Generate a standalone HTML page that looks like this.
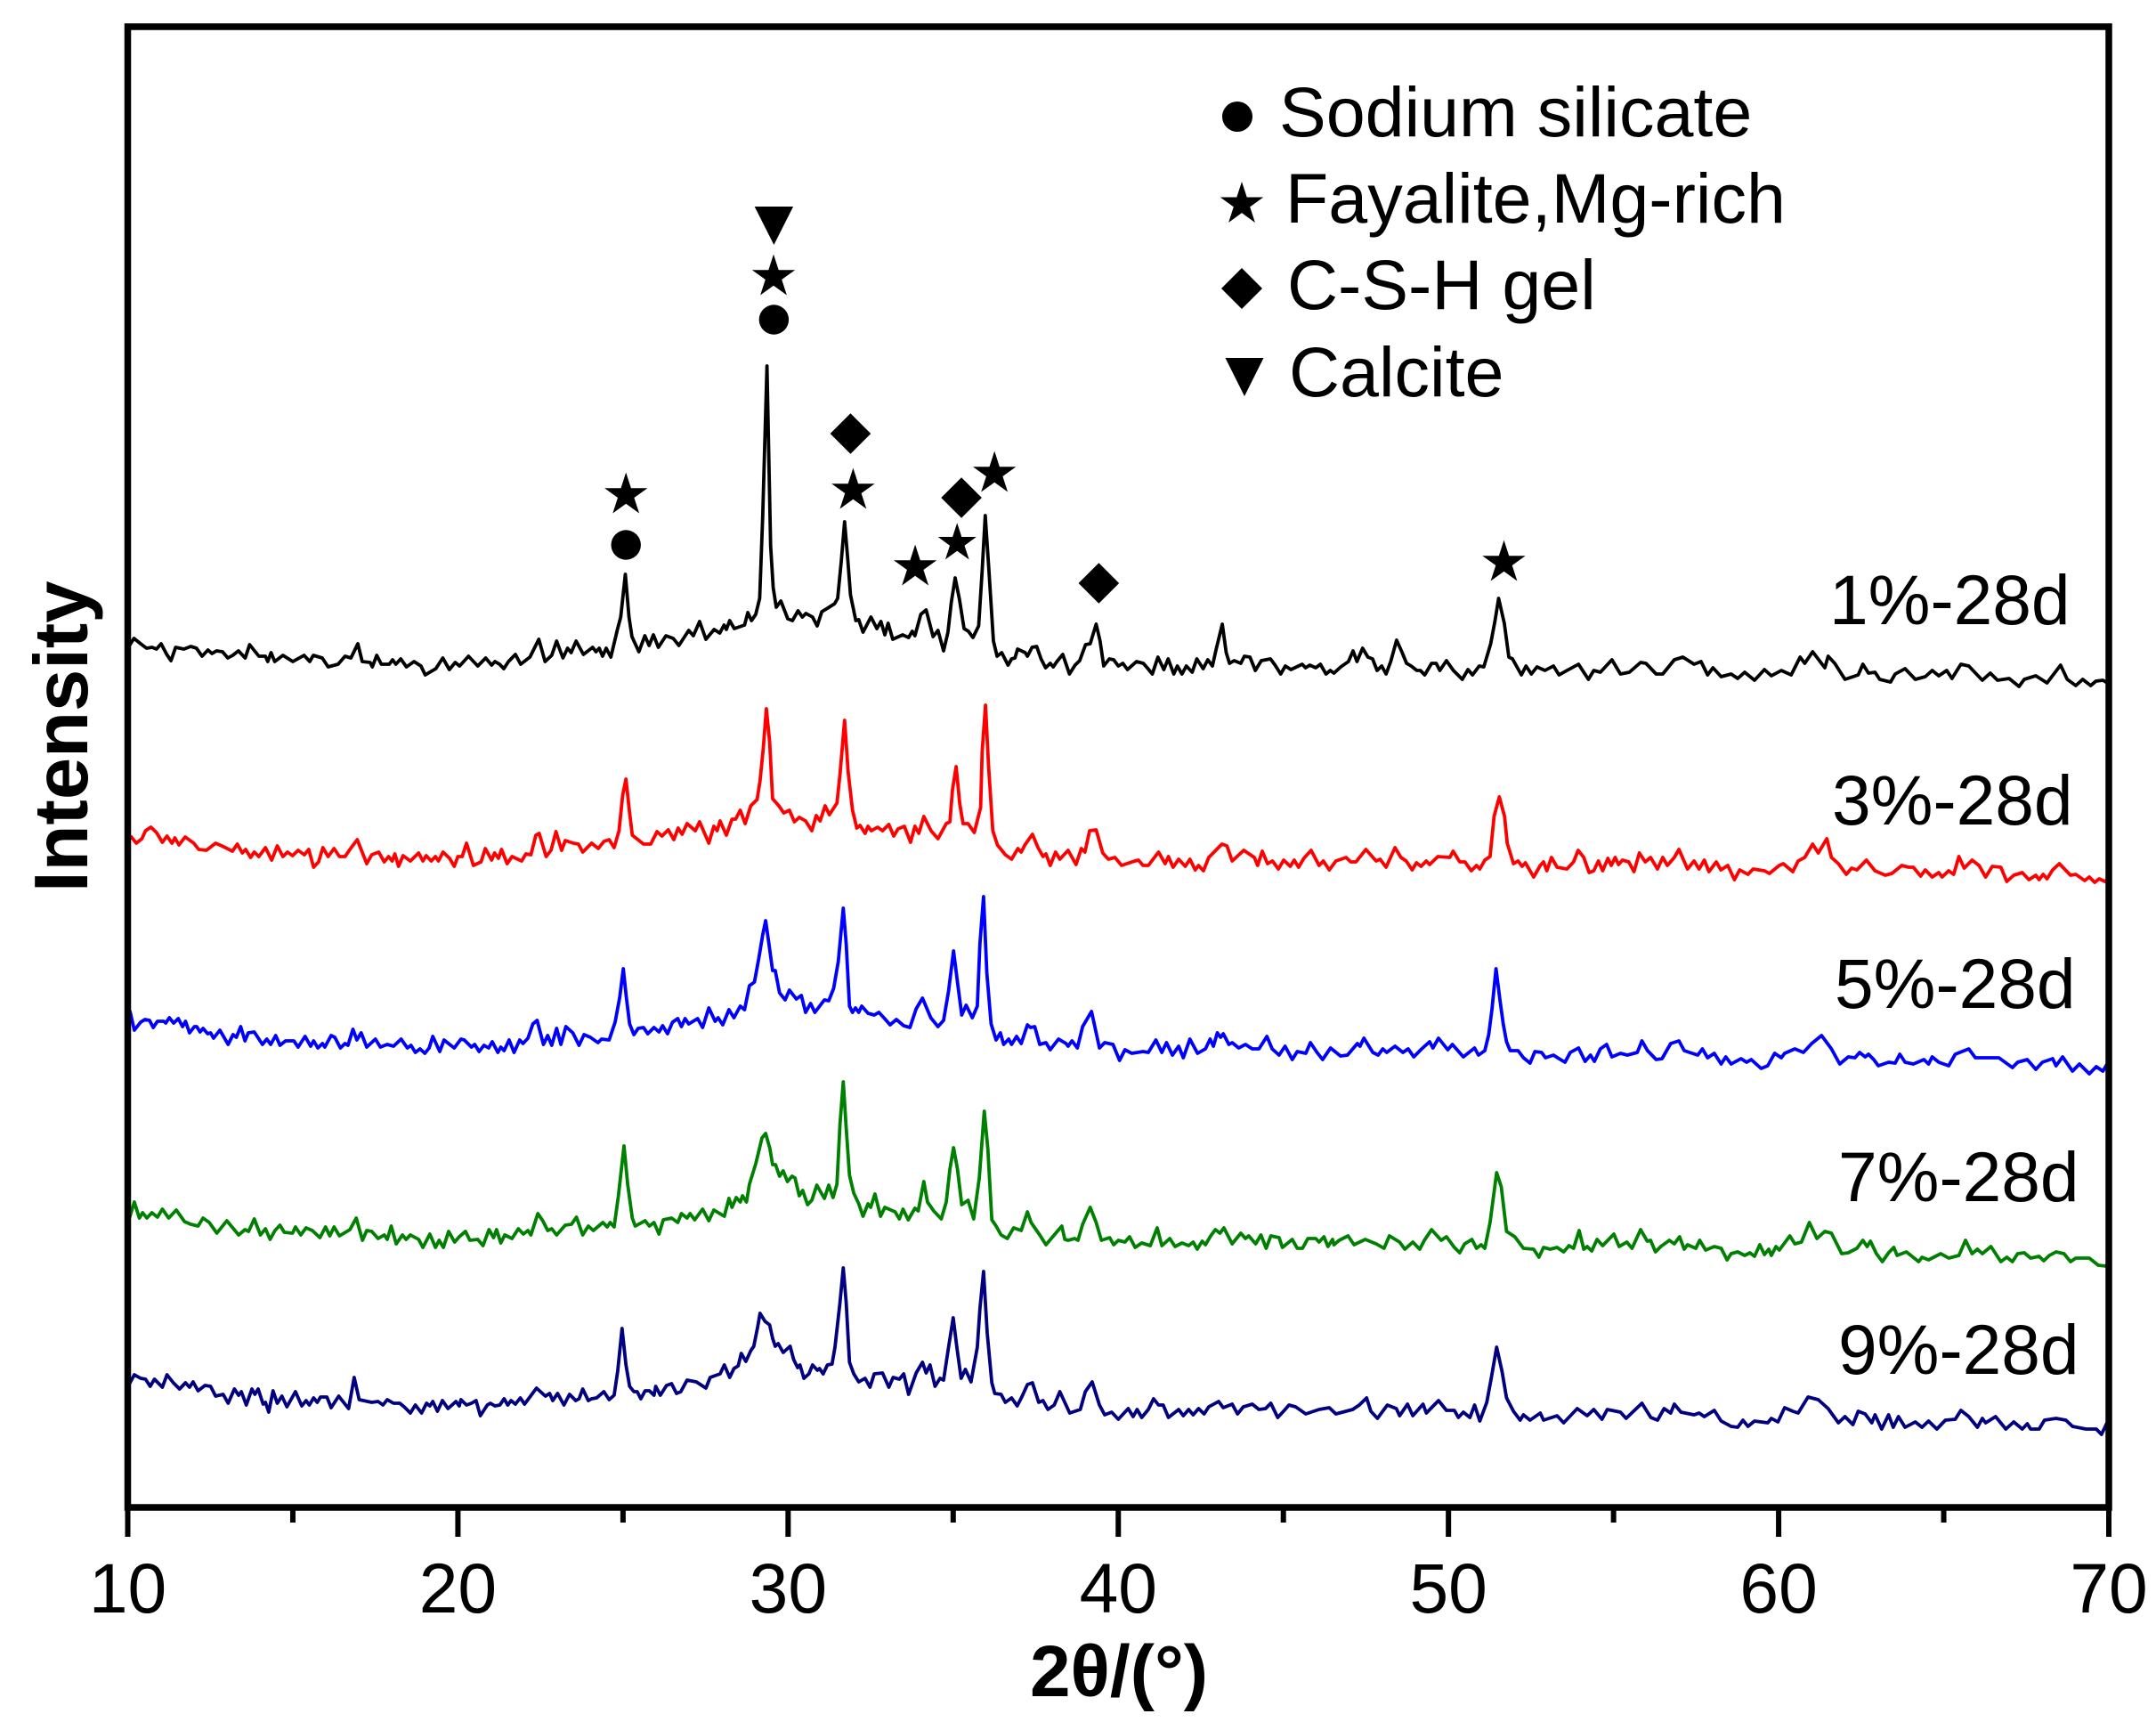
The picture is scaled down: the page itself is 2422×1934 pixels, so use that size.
<!DOCTYPE html>
<html lang="en">
<head>
<meta charset="utf-8">
<title>XRD patterns at 28 days</title>
<style>
html,body{margin:0;padding:0;background:#fff;}
svg{display:block;}
text{font-family:"Liberation Sans",sans-serif;fill:#000;}
</style>
</head>
<body>
<svg id="chart" xmlns="http://www.w3.org/2000/svg" width="2422" height="1934" viewBox="0 0 2422 1934">
<rect x="0" y="0" width="2422" height="1934" fill="#fff"/>
<g id="series-layer"></g>
<g id="marker-layer"></g>
<rect x="143.5" y="30" width="2225.5" height="1663" fill="none" stroke="#000" stroke-width="7.5"/>
<g id="tick-layer"></g>
<text transform="translate(98,1002) rotate(-90)" font-size="85" font-weight="700">Intensity</text>
<text x="1257" y="1905" font-size="82" font-weight="700" text-anchor="middle">2θ/(°)</text>
<g>
<circle cx="1390" cy="131" r="17" fill="#000"/>
<polygon points="1395,204 1400.7,221.5 1419.2,221.5 1404.2,232.4 1409.9,250 1395,239.1 1380.1,250 1385.8,232.4 1370.8,221.5 1389.3,221.5" fill="#000"/>
<polygon points="1395,301 1418,324 1395,347 1372,324" fill="#000"/>
<polygon points="1376.5,402 1419.5,402 1398,445" fill="#000"/>
<text x="1437" y="153" font-size="79">Sodium silicate</text>
<text x="1444" y="250" font-size="79">Fayalite,Mg-rich</text>
<text x="1446" y="347" font-size="79">C-S-H gel</text>
<text x="1448" y="445" font-size="79">Calcite</text>
</g>
<text x="2055" y="701" font-size="78.5">1%-28d</text>
<text x="2058" y="926" font-size="78.5">3%-28d</text>
<text x="2061" y="1132" font-size="78.5">5%-28d</text>
<text x="2065" y="1349" font-size="78.5">7%-28d</text>
<text x="2065" y="1543" font-size="78.5">9%-28d</text>
</svg>
<script>
const majorTicks = [10, 20, 30, 40, 50, 60, 70];
const minorTicks = [15, 25, 35, 45, 55, 65];

const theta1 = [10.05,10.19,10.39,10.57,10.74,10.87,11.01,11.18,11.31,11.45,11.70,11.91,12.08,12.25,12.43,12.55,12.69,12.87,13.03,13.18,13.35,13.56,13.69,13.97,14.17,14.24,14.34,14.45,14.70,15.0,15.34,15.51,15.62,15.89,16.07,16.37,16.58,16.76,16.97,17.10,17.34,17.41,17.54,17.68,17.92,18.02,18.12,18.27,18.44,18.67,18.88,19.01,19.33,19.54,19.74,19.92,20.05,20.32,20.60,20.84,21.02,21.12,21.26,21.39,21.53,21.74,21.90,22.18,22.45,22.64,22.84,22.99,23.18,23.32,23.43,23.58,23.80,24.08,24.18,24.28,24.38,24.49,24.63,24.83,24.93,25.07,25.18,25.27,25.48,25.66,25.79,25.92,26.07,26.30,26.52,26.69,26.99,27.13,27.32,27.51,27.76,27.93,28.06,28.13,28.23,28.37,28.68,28.78,28.89,29.02,29.14,29.23,29.36,29.47,29.55,29.64,29.78,29.99,30.13,30.30,30.43,30.54,30.74,30.88,31.02,31.2,31.41,31.50,31.61,31.71,31.81,31.89,32.05,32.14,32.27,32.51,32.69,32.81,32.93,33.03,33.17,33.47,33.65,33.76,33.84,34.02,34.18,34.39,34.54,34.71,34.84,34.94,35.06,35.19,35.33,35.46,35.6,35.77,35.88,35.97,36.08,36.22,36.33,36.47,36.66,36.77,36.87,36.95,37.18,37.25,37.39,37.53,37.66,37.8,37.94,38.03,38.14,38.32,38.52,38.69,38.83,39.01,39.15,39.33,39.45,39.56,39.73,39.86,40.0,40.14,40.28,40.55,40.76,40.9,41.03,41.2,41.38,41.51,41.68,41.79,41.93,42.06,42.24,42.38,42.57,42.71,42.85,42.96,43.15,43.27,43.37,43.51,43.71,43.82,43.99,44.15,44.33,44.61,44.75,44.92,45.06,45.23,45.57,45.67,45.8,45.98,46.12,46.29,46.42,46.53,46.74,46.97,47.11,47.23,47.4,47.56,47.7,47.84,47.98,48.11,48.25,48.43,48.6,48.73,48.87,49.04,49.15,49.28,49.49,49.63,49.74,49.94,50.15,50.42,50.59,50.73,50.93,51.07,51.28,51.41,51.52,51.69,51.83,51.94,52.21,52.35,52.51,52.68,52.92,53.18,53.35,53.59,53.94,54.24,54.4,54.6,54.95,55.21,55.48,55.82,55.98,56.29,56.49,56.84,57.1,57.44,57.65,57.85,58.01,58.26,58.56,58.76,58.97,59.27,59.57,59.78,60.08,60.38,60.65,60.79,61.03,61.4,61.5,61.7,62.01,62.41,62.55,62.72,62.92,63.06,63.39,63.53,63.83,64.14,64.44,64.65,64.85,65.09,65.25,65.52,65.76,66.17,66.41,66.63,66.98,67.28,67.44,67.79,68.13,68.54,68.74,69.0,69.21,69.45,69.61,69.82,69.96];
const intensity1 = [968,976,970,965,966,964,970,958,951,966,964,967,965,956,963,959,962,961,954,957,962,954,969,956,956,950,960,950,957,950,957,950,957,954,944,947,956,954,970,950,949,944,957,947,947,952,947,953,944,950,945,935,942,954,941,949,945,956,945,954,946,950,947,942,950,958,947,955,975,950,957,973,954,965,960,973,958,966,961,965,956,965,955,986,1000,1048,1000,978,961,979,968,980,966,979,976,968,985,979,995,975,986,982,991,986,996,987,991,1005,996,1003,1021,1113,1282,1080,1033,1011,1018,998,996,1007,1000,1004,1000,990,1006,1010,1015,1021,1063,1107,1063,1025,996,997,983,1000,987,995,980,993,975,980,977,984,979,1003,1008,978,985,962,983,1016,1044,1020,987,984,977,990,1053,1114,1053,973,956,960,946,953,954,964,960,956,966,967,953,943,948,944,950,958,936,946,951,969,970,992,973,945,953,952,945,948,941,950,948,942,936,955,941,953,936,945,936,945,938,953,942,952,945,963,992,960,948,951,948,956,955,940,951,953,946,936,945,941,947,943,946,943,947,936,940,937,944,950,962,950,965,955,953,940,945,936,950,974,960,948,945,940,940,935,948,948,940,951,940,930,941,935,945,944,970,996,1021,993,955,953,935,945,936,944,940,945,935,940,947,930,940,938,952,936,938,949,948,936,936,952,955,947,950,935,943,933,936,931,938,929,941,934,940,935,955,948,961,943,956,948,930,935,947,937,938,930,927,936,942,930,933,940,934,940,931,947,945,929,937,929,931,922,930,934,926,946,930,923,930,923,928,929,926];

const theta3 = [10.01,10.11,10.26,10.43,10.54,10.7,10.87,11.05,11.19,11.34,11.43,11.55,11.74,12.0,12.15,12.38,12.66,12.85,13.17,13.32,13.47,13.57,13.72,13.83,13.97,14.17,14.36,14.53,14.7,14.84,14.99,15.16,15.35,15.48,15.63,15.78,15.91,16.07,16.25,16.41,16.58,16.73,16.95,17.24,17.39,17.6,17.77,17.9,18.01,18.09,18.2,18.34,18.56,18.81,18.94,19.04,19.19,19.32,19.41,19.55,19.75,19.89,20.0,20.13,20.26,20.47,20.7,20.83,21.02,21.11,21.23,21.32,21.49,21.64,21.93,22.06,22.21,22.36,22.46,22.67,22.82,22.97,23.14,23.25,23.5,23.65,23.78,24.05,24.25,24.42,24.58,24.73,24.88,24.99,25.09,25.18,25.28,25.62,25.84,26.03,26.18,26.37,26.54,26.67,26.79,26.94,27.19,27.32,27.6,27.75,27.85,27.94,28.13,28.3,28.41,28.55,28.7,28.87,29.06,29.15,29.25,29.34,29.44,29.53,29.72,29.87,30.04,30.19,30.34,30.53,30.72,30.85,30.97,31.12,31.25,31.48,31.57,31.71,31.82,31.95,32.08,32.18,32.33,32.42,32.52,32.71,32.86,33.05,33.2,33.33,33.52,33.71,33.84,33.96,34.11,34.33,34.54,34.79,34.9,34.98,35.09,35.2,35.3,35.45,35.64,35.83,35.88,35.98,36.07,36.2,36.34,36.58,36.77,36.96,37.06,37.17,37.4,37.57,37.72,37.81,37.94,38.1,38.23,38.48,38.72,38.88,38.99,39.13,39.33,39.53,39.7,39.9,40.1,40.5,40.61,40.75,40.91,41.22,41.42,41.52,41.66,41.83,42.03,42.17,42.33,42.43,42.58,42.74,43.14,43.29,43.45,43.8,44.12,44.22,44.36,44.52,44.67,44.85,45.01,45.21,45.33,45.46,45.62,45.84,46.08,46.21,46.39,46.59,46.9,47.04,47.2,47.5,47.81,47.93,48.11,48.38,48.56,48.72,48.9,49.03,49.17,49.33,49.43,49.68,50.04,50.14,50.34,50.5,50.69,50.85,50.95,51.1,51.26,51.38,51.54,51.7,51.78,51.97,52.11,52.23,52.33,52.58,52.78,52.88,52.98,53.12,53.29,53.59,53.79,53.93,54.1,54.26,54.4,54.54,54.67,54.83,54.93,55.05,55.15,55.27,55.46,55.62,55.78,55.96,56.12,56.33,56.49,56.63,56.84,56.98,57.24,57.44,57.59,57.75,57.89,58.11,58.25,58.46,58.66,58.82,59.07,59.23,59.57,59.72,60.02,60.14,60.43,60.59,60.79,61.03,61.2,61.46,61.6,61.81,62.05,62.21,62.37,62.66,62.92,63.23,63.43,63.73,63.94,64.08,64.3,64.44,64.65,64.85,64.95,65.15,65.3,65.46,65.62,65.86,66.07,66.27,66.47,66.73,66.91,67.12,67.38,67.58,67.79,67.89,68.01,68.13,68.3,68.5,68.84,69.0,69.27,69.41,69.57,69.71,69.88,69.98];
const intensity3 = [750,753,746,751,760,764,758,747,754,746,752,744,753,746,739,738,746,743,737,745,735,739,730,736,731,741,727,743,731,736,732,738,733,739,719,725,741,731,740,731,731,739,750,723,733,736,725,731,726,734,720,732,726,735,726,732,726,731,726,736,729,720,731,731,746,721,725,740,727,735,729,739,723,731,726,734,733,755,757,731,738,759,738,749,746,745,736,746,740,748,750,741,760,800,818,786,755,745,745,759,754,761,750,763,756,768,760,770,746,765,760,771,755,773,773,783,768,788,795,816,853,897,860,796,788,780,783,770,775,771,760,777,771,788,778,791,823,884,826,783,763,766,757,765,760,764,760,767,754,762,765,747,765,757,776,760,751,768,770,806,832,790,768,768,758,786,850,901,833,760,744,733,728,740,736,744,756,741,731,734,721,736,728,738,722,740,736,760,761,735,728,730,721,726,727,721,721,736,723,731,719,728,720,728,716,721,715,730,745,743,726,738,730,721,737,723,726,717,727,720,727,719,729,738,721,726,716,726,730,725,725,739,726,728,719,741,730,726,716,724,720,726,722,731,730,737,725,725,715,721,717,727,731,776,798,776,746,723,726,720,724,708,721,725,715,730,719,717,725,738,730,713,715,726,715,729,721,730,722,727,725,714,735,725,730,717,730,721,730,739,717,726,717,727,714,725,716,721,705,716,711,717,715,712,721,723,714,726,730,745,735,751,730,723,711,718,716,727,715,710,712,721,719,719,709,716,708,713,708,715,711,731,718,727,721,708,720,719,703,710,713,705,710,705,711,706,716,723,710,711,704,708,702,706,703,706];

const theta5 = [10.01,10.07,10.2,10.39,10.52,10.66,10.77,10.9,11.09,11.15,11.26,11.39,11.53,11.66,11.75,11.87,12.02,12.09,12.19,12.28,12.42,12.51,12.6,12.79,13.04,13.19,13.29,13.42,13.55,13.65,13.83,14.08,14.21,14.33,14.48,14.61,14.78,15.03,15.16,15.37,15.54,15.63,15.76,15.9,15.97,16.16,16.27,16.44,16.58,16.67,16.82,16.94,17.07,17.24,17.5,17.65,17.86,18.05,18.28,18.47,18.58,18.71,18.85,19.0,19.13,19.24,19.45,19.58,19.75,19.89,20.09,20.19,20.41,20.51,20.64,20.79,20.93,21.04,21.21,21.3,21.4,21.55,21.7,21.87,21.97,22.12,22.27,22.4,22.59,22.72,22.84,22.99,23.12,23.27,23.48,23.67,23.82,24.01,24.24,24.35,24.58,24.76,24.9,25.01,25.1,25.2,25.33,25.46,25.62,25.75,25.94,26.09,26.2,26.35,26.5,26.66,26.77,26.88,26.99,27.26,27.41,27.6,27.79,27.88,28.02,28.21,28.36,28.55,28.68,28.83,28.98,29.11,29.23,29.32,29.42,29.53,29.61,29.74,29.91,30.04,30.25,30.4,30.53,30.68,30.81,31.1,31.23,31.38,31.52,31.67,31.76,31.86,31.95,32.04,32.14,32.23,32.42,32.61,32.75,32.9,33.09,33.28,33.5,33.69,33.88,34.07,34.32,34.54,34.71,34.86,35.01,35.13,35.26,35.39,35.58,35.73,35.81,35.92,36.02,36.15,36.3,36.43,36.53,36.68,36.77,36.92,37.06,37.25,37.34,37.47,37.62,37.81,37.94,38.19,38.42,38.48,38.6,38.76,38.92,39.19,39.43,39.59,39.84,40.04,40.2,40.41,40.75,40.91,41.14,41.32,41.46,41.64,41.83,41.97,42.17,42.4,42.64,42.78,42.88,43.0,43.1,43.18,43.35,43.45,43.65,43.85,44.06,44.26,44.5,44.66,44.87,45.05,45.27,45.42,45.68,45.82,46.02,46.19,46.43,46.73,46.94,47.24,47.32,47.44,47.71,47.87,48.01,48.13,48.38,48.62,48.78,48.95,49.19,49.43,49.53,49.7,49.98,50.12,50.45,50.79,50.91,51.1,51.22,51.32,51.44,51.56,51.66,51.76,51.87,52.11,52.27,52.47,52.62,52.82,52.94,53.18,53.35,53.53,53.69,53.94,54.14,54.3,54.42,54.6,54.79,54.95,55.21,55.42,55.72,55.86,56.03,56.29,56.47,56.73,56.98,57.14,57.55,57.69,57.85,58.05,58.26,58.4,58.56,58.86,59.03,59.17,59.47,59.67,59.88,60.08,60.18,60.49,60.75,61.0,61.3,61.6,61.85,62.11,62.31,62.45,62.62,62.72,62.88,63.02,63.33,63.53,63.67,63.83,64.08,64.4,64.54,64.65,64.85,65.15,65.35,65.76,65.96,66.67,67.08,67.24,67.53,67.79,67.99,68.3,68.4,68.6,68.9,69.11,69.41,69.62,69.82,69.98];
const intensity5 = [550,557,536,545,548,547,539,546,546,544,550,544,549,540,546,533,540,540,534,538,532,533,527,536,520,531,528,540,524,533,534,520,526,520,530,519,524,524,517,529,518,524,516,521,517,530,528,516,521,519,537,525,533,517,526,517,520,518,526,516,519,511,515,510,516,529,512,525,520,516,526,525,517,520,512,519,516,523,511,517,513,525,511,525,521,527,543,547,520,530,519,538,520,540,533,519,531,528,522,526,525,545,573,605,573,543,531,538,539,532,539,534,541,532,545,549,540,549,543,549,539,561,546,550,542,559,550,563,559,586,590,616,643,659,633,603,603,578,570,581,571,575,556,566,556,570,569,583,613,673,633,563,556,561,556,563,555,553,556,550,542,548,541,539,560,572,550,540,547,580,625,590,553,564,550,563,633,686,600,543,525,533,520,526,520,529,521,542,539,540,520,522,514,526,521,518,524,516,540,557,516,522,520,502,514,510,512,511,525,511,522,508,518,505,526,510,515,526,518,533,528,532,520,522,516,520,515,515,529,515,508,518,503,512,510,522,511,503,516,507,508,521,518,527,511,508,515,511,518,511,515,506,515,523,516,527,514,520,506,516,508,513,531,560,605,570,543,523,513,513,505,499,512,511,505,508,504,500,511,516,501,508,501,515,520,506,510,508,511,524,513,503,504,521,524,513,508,515,505,510,498,506,498,504,500,503,493,496,510,505,510,515,511,521,530,515,498,506,505,511,506,509,503,496,500,499,509,500,498,503,498,506,500,496,509,515,505,505,494,500,503,492,500,504,496,506,490,498,487,495,490,500];

const theta7 = [10.01,10.2,10.35,10.45,10.58,10.73,10.9,11.05,11.24,11.47,11.72,11.91,12.13,12.28,12.47,12.7,13.0,13.36,13.55,13.66,13.83,14.02,14.17,14.31,14.46,14.61,14.74,14.99,15.08,15.24,15.4,15.59,15.82,15.99,16.12,16.25,16.41,16.73,16.92,17.11,17.24,17.39,17.58,17.77,17.86,17.98,18.13,18.32,18.43,18.56,18.81,18.94,19.15,19.32,19.43,19.56,19.72,19.9,20.04,20.23,20.36,20.6,20.76,20.94,21.08,21.17,21.3,21.42,21.64,21.83,21.98,22.12,22.21,22.42,22.57,22.72,22.84,22.99,23.25,23.44,23.59,23.78,23.95,24.1,24.39,24.52,24.61,24.73,24.86,25.03,25.14,25.28,25.37,25.52,25.67,25.8,25.94,26.09,26.22,26.47,26.66,26.77,26.94,27.03,27.17,27.41,27.6,27.75,28.07,28.21,28.3,28.43,28.55,28.62,28.74,28.83,29.02,29.21,29.32,29.45,29.53,29.62,29.74,29.85,29.98,30.12,30.21,30.34,30.44,30.59,30.72,30.87,31.1,31.23,31.36,31.48,31.57,31.67,31.76,31.86,31.99,32.14,32.27,32.42,32.5,32.63,32.8,32.93,33.24,33.37,33.48,33.64,33.84,33.94,34.11,34.22,34.41,34.64,34.79,34.9,35.01,35.13,35.26,35.45,35.62,35.79,35.94,36.05,36.17,36.3,36.45,36.64,36.83,37.06,37.25,37.36,37.62,37.81,38.06,38.29,38.38,38.48,38.68,38.78,38.92,39.15,39.33,39.49,39.74,39.86,40.0,40.2,40.34,40.51,40.71,40.97,41.18,41.32,41.56,41.72,41.93,42.13,42.27,42.39,42.54,42.64,42.8,42.94,43.08,43.2,43.45,43.71,43.85,43.95,44.16,44.32,44.48,44.62,44.87,44.97,45.27,45.42,45.58,45.74,45.98,46.08,46.23,46.35,46.49,46.53,46.69,46.96,47.14,47.48,47.81,48.05,48.21,48.52,48.68,48.92,49.13,49.27,49.49,49.78,49.94,50.18,50.34,50.49,50.71,50.85,50.99,51.1,51.26,51.46,51.6,51.76,52.01,52.27,52.58,52.74,52.88,53.08,53.29,53.49,53.65,53.79,53.96,54.1,54.2,54.34,54.5,54.67,55.01,55.17,55.4,55.56,55.82,56.02,56.12,56.27,56.43,56.69,56.84,57.0,57.14,57.24,57.49,57.61,57.79,58.05,58.26,58.44,58.56,58.76,58.97,59.13,59.27,59.43,59.57,59.7,59.78,59.92,60.02,60.34,60.49,60.69,60.93,61.16,61.4,61.6,61.91,62.11,62.37,62.55,62.68,62.78,62.96,63.14,63.33,63.49,63.59,63.87,64.24,64.34,64.54,64.91,65.15,65.46,65.66,65.86,66.02,66.17,66.43,66.73,66.91,67.08,67.24,67.44,67.63,67.89,68.03,68.2,68.4,68.64,68.84,69.0,69.41,69.68,69.92,69.98];
const intensity7 = [320,343,325,331,325,331,326,335,325,334,321,318,316,325,320,308,322,306,312,310,324,306,313,301,311,317,309,308,315,306,314,311,303,315,305,315,305,312,325,300,311,310,302,306,301,316,296,306,301,306,301,292,307,292,300,292,310,298,304,310,300,301,294,312,303,312,297,306,302,313,307,311,306,330,322,311,313,306,317,318,326,306,316,311,320,315,320,315,350,406,363,325,316,319,322,316,320,307,323,325,320,330,325,330,323,335,322,334,327,347,337,348,343,350,343,363,386,415,420,403,385,385,372,378,366,372,370,350,356,340,345,362,347,362,348,363,430,478,426,373,353,341,327,341,337,352,327,337,332,324,335,323,336,333,366,343,333,324,343,380,404,380,340,345,324,370,445,403,323,316,306,302,314,311,332,320,306,295,306,316,301,300,302,300,318,337,320,300,303,295,300,298,304,292,297,294,314,294,302,293,297,294,298,290,299,295,305,312,308,314,296,308,302,305,296,306,291,305,303,292,301,291,291,302,302,298,304,293,301,295,300,305,295,301,296,291,305,298,290,298,290,300,312,300,304,292,286,296,301,291,295,291,320,376,360,310,304,291,290,281,292,290,292,287,294,291,311,290,293,288,301,294,307,293,298,291,312,299,300,287,293,300,296,304,290,295,291,300,289,293,291,278,285,287,283,286,282,295,284,290,283,293,289,305,296,298,320,302,310,308,285,286,291,300,293,299,285,276,286,292,283,287,276,281,278,285,280,283,300,285,290,285,293,276,281,276,285,286,280,282,277,283,287,285,276,280,280,272,271,276];

const theta9 = [10.01,10.2,10.39,10.54,10.68,10.81,11.05,11.19,11.38,11.57,11.75,11.87,11.98,12.13,12.34,12.51,12.66,12.89,13.04,13.23,13.36,13.44,13.59,13.76,13.85,13.95,14.1,14.17,14.27,14.4,14.53,14.67,14.82,15.08,15.27,15.4,15.5,15.63,15.74,15.84,16.03,16.16,16.39,16.69,16.86,17.01,17.39,17.58,17.73,17.86,18.05,18.24,18.37,18.56,18.71,18.9,19.05,19.15,19.24,19.38,19.53,19.7,19.94,20.04,20.09,20.26,20.41,20.55,20.68,20.89,20.98,21.12,21.27,21.4,21.51,21.61,21.74,21.89,22.02,22.16,22.38,22.65,22.78,22.87,23.02,23.21,23.38,23.57,23.67,23.78,23.95,24.05,24.2,24.42,24.58,24.73,24.84,24.97,25.09,25.2,25.33,25.43,25.54,25.67,25.8,25.94,25.99,26.13,26.32,26.47,26.62,26.75,26.94,27.22,27.51,27.64,27.94,28.07,28.23,28.36,28.49,28.58,28.72,28.87,28.96,29.08,29.15,29.3,29.44,29.53,29.61,29.7,29.85,30.06,30.17,30.29,30.36,30.48,30.63,30.74,30.89,30.95,31.06,31.19,31.33,31.42,31.57,31.67,31.76,31.86,31.99,32.14,32.33,32.48,32.61,32.86,33.05,33.18,33.37,33.5,33.65,33.88,34.07,34.18,34.3,34.45,34.6,34.71,34.86,35.0,35.11,35.24,35.37,35.54,35.73,35.81,35.92,36.03,36.17,36.26,36.45,36.58,36.77,36.94,37.09,37.25,37.4,37.59,37.72,37.87,38.06,38.23,38.53,38.85,39.0,39.21,39.43,39.59,39.8,40.0,40.3,40.45,40.57,40.71,40.91,41.07,41.22,41.36,41.52,41.83,41.97,42.13,42.27,42.43,42.6,42.74,43.04,43.18,43.45,43.61,43.79,44.06,44.26,44.46,44.62,44.83,45.03,45.17,45.37,45.68,46.08,46.39,46.59,47.1,47.3,47.52,47.65,47.85,48.15,48.42,48.52,48.76,48.92,49.23,49.33,49.7,49.94,50.18,50.3,50.45,50.65,50.79,50.95,51.16,51.3,51.46,51.62,51.76,51.97,52.17,52.27,52.47,52.78,52.88,53.29,53.49,53.9,54.2,54.4,54.65,54.81,55.21,55.38,55.86,56.13,56.33,56.53,56.73,56.84,57.04,57.44,57.59,57.75,58.05,58.26,58.56,58.76,58.92,59.07,59.27,59.67,59.78,59.98,60.18,60.43,60.59,60.89,61.2,61.5,61.81,62.01,62.25,62.41,62.62,62.82,62.92,63.12,63.33,63.47,63.63,63.83,64.14,64.34,64.54,64.79,65.05,65.35,65.52,65.76,66.02,66.17,66.27,66.57,66.88,67.12,67.38,67.53,67.63,67.89,68.05,68.4,68.7,68.9,69.31,69.62,69.78,69.98];
const intensity9 = [136,149,145,144,136,144,135,149,140,133,140,135,141,131,137,136,125,127,117,133,126,130,115,133,127,133,116,118,107,131,117,125,113,130,114,120,115,123,118,124,124,112,125,111,146,121,118,119,115,121,117,117,113,106,115,106,117,114,119,108,120,111,119,114,121,115,117,120,103,115,117,114,115,122,115,120,116,123,116,123,134,125,128,120,128,115,127,120,122,133,120,122,123,130,121,126,153,201,160,136,130,130,122,131,131,126,136,126,137,139,128,130,143,141,134,146,150,160,146,156,159,173,164,176,181,203,218,209,205,190,181,184,174,181,166,157,160,145,150,160,154,156,150,160,161,180,230,269,230,163,150,141,145,135,150,151,135,146,144,150,127,151,163,151,160,136,145,143,180,213,180,145,155,141,180,223,265,196,140,128,127,118,123,114,125,138,140,118,120,110,115,130,106,110,130,141,115,104,107,99,111,102,110,101,110,122,115,115,101,110,103,110,104,111,105,113,119,112,116,105,113,116,110,111,117,101,109,115,113,105,110,112,105,110,115,123,108,100,115,111,103,116,103,116,106,120,109,109,101,107,101,115,97,118,146,180,153,123,108,98,104,98,106,98,103,95,111,103,110,99,110,107,100,117,101,98,111,106,116,107,104,106,102,109,97,91,90,98,91,97,95,100,96,112,108,106,124,121,111,95,102,93,108,105,95,104,88,104,90,102,90,96,90,97,88,98,99,109,102,90,100,95,102,88,96,88,94,88,88,98,100,98,91,88,88,82,98];

const markerTheta = [29.57,29.56,29.57,25.09,25.09,31.89,31.97,33.85,35.12,35.25,36.25,39.41,51.68];
const markerIntensity = [1439.5,1382,1334,1137,1081,1206,1142,1056,1083,1134,1161,1038,1061];
const markerKind = ['calcite','fayalite','sodium-silicate','fayalite','sodium-silicate','csh-gel','fayalite','fayalite','fayalite-small','csh-gel','fayalite','csh-gel','fayalite'];

const SVGNS = 'http://www.w3.org/2000/svg';
const xScale = t => 143.5 + (t - 10) * (2369 - 143.5) / 60;
const yScale = v => 1693 - v * (1693 - 28) / 1665;

function make(tag, attrs) {
  const el = document.createElementNS(SVGNS, tag);
  for (const k in attrs) el.setAttribute(k, attrs[k]);
  return el;
}

const seriesLayer = document.getElementById('series-layer');
function drawSeries(name, xs, ys, colour) {
  const n = Math.min(xs.length, ys.length);
  let d = '';
  for (let i = 0; i < n; i++) {
    d += (i ? 'L' : 'M') + xScale(xs[i]).toFixed(1) + ' ' + yScale(ys[i]).toFixed(1);
  }
  const p = make('path', {d: d, fill: 'none', stroke: colour, 'stroke-width': 3.8, 'stroke-linejoin': 'round', 'stroke-linecap': 'round'});
  
  
  seriesLayer.appendChild(p);
}
drawSeries('series-1pct-28d', theta1, intensity1, '#000000');
drawSeries('series-3pct-28d', theta3, intensity3, '#ff0000');
drawSeries('series-5pct-28d', theta5, intensity5, '#0000ff');
drawSeries('series-7pct-28d', theta7, intensity7, '#008000');
drawSeries('series-9pct-28d', theta9, intensity9, '#000080');

function starPoints(cx, cy, R) {
  const pts = [];
  for (let i = 0; i < 10; i++) {
    const r = i % 2 ? R * 0.382 : R;
    const a = -Math.PI / 2 + i * Math.PI / 5;
    pts.push((cx + r * Math.cos(a)).toFixed(1) + ',' + (cy + r * Math.sin(a)).toFixed(1));
  }
  return pts.join(' ');
}

const markerLayer = document.getElementById('marker-layer');
markerTheta.forEach(function (t, i) {
  const cx = xScale(t), cy = yScale(markerIntensity[i]), kind = markerKind[i];
  let el;
  if (kind === 'sodium-silicate') {
    el = make('circle', {cx: cx, cy: cy, r: 16.7, fill: '#000'});
  } else if (kind === 'fayalite') {
    el = make('polygon', {points: starPoints(cx, cy, 25.4), fill: '#000'});
  } else if (kind === 'fayalite-small') {
    el = make('polygon', {points: starPoints(cx, cy, 22.7), fill: '#000'});
  } else if (kind === 'csh-gel') {
    el = make('polygon', {points: [cx, cy - 22.8, cx + 22.8, cy, cx, cy + 22.8, cx - 22.8, cy].join(' '), fill: '#000'});
  } else {
    el = make('polygon', {points: [cx - 21.7, cy - 21.5, cx + 21.7, cy - 21.5, cx, cy + 21.5].join(' '), fill: '#000'});
  }
  
  
  markerLayer.appendChild(el);
});

const tickLayer = document.getElementById('tick-layer');
majorTicks.forEach(function (t) {
  const x = xScale(t);
  const line = make('line', {x1: x, x2: x, y1: 1693, y2: 1726, stroke: '#000', 'stroke-width': 6});
  
  
  tickLayer.appendChild(line);
  const label = make('text', {x: x, y: 1811, 'font-size': 78.5, 'text-anchor': 'middle'});
  label.textContent = String(t);
  
  
  tickLayer.appendChild(label);
});
minorTicks.forEach(function (t) {
  const x = xScale(t);
  const line = make('line', {x1: x, x2: x, y1: 1693, y2: 1710, stroke: '#000', 'stroke-width': 6});
  
  
  tickLayer.appendChild(line);
});
</script>
</body>
</html>
